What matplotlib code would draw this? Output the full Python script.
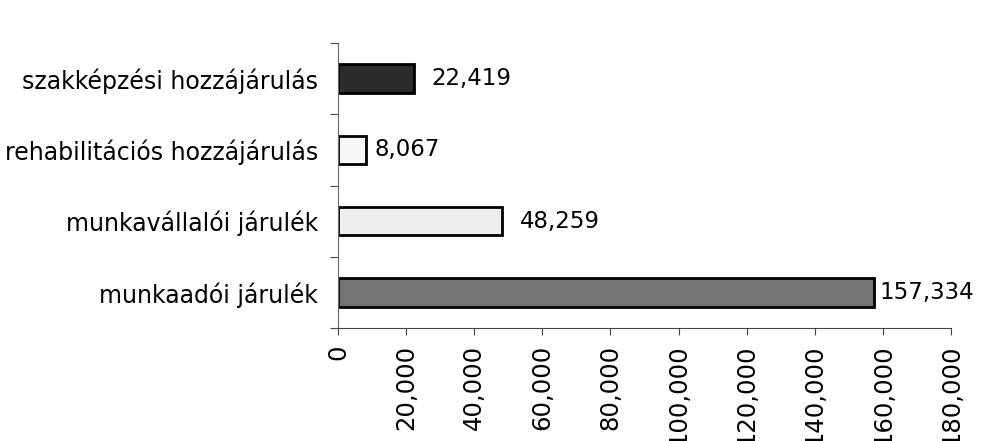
import matplotlib.pyplot as plt
from matplotlib.ticker import FuncFormatter

# adatok
kategoriak = ['munkaadói járulék', 'munkavállalói járulék',
              'rehabilitációs hozzájárulás', 'szakképzési hozzájárulás']
ertekek = [157334, 48259, 8067, 22419]
szinek = ['#737373', '#eeeeee', '#f8f8f8', '#2b2b2b']
x_tickek = [0, 20000, 40000, 60000, 80000, 100000, 120000, 140000, 160000, 180000]
cimke_eltolas = [6, 17, 9, 17]  # pixelben

plt.rcParams['font.family'] = 'DejaVu Sans'

fig = plt.figure(figsize=(9.81, 4.41), dpi=100)
ax = fig.add_axes([0.3446, 0.2562, 0.9694 - 0.3446, 0.9025 - 0.2562])

y = range(len(kategoriak))
ax.barh(y, ertekek, height=0.4, color=szinek, edgecolor='black', linewidth=2)

for i, v in enumerate(ertekek):
    ax.annotate(f'{v:,}', (v, i), xytext=(cimke_eltolas[i], 0),
                textcoords='offset pixels', va='center', ha='left', fontsize=16.5)

ax.set_xlim(0, 180000)
ax.set_ylim(-0.5, 3.5)
ax.set_xticks(x_tickek)
ax.xaxis.set_major_formatter(FuncFormatter(lambda v, p: f'{int(v):,}'))
ax.tick_params(axis='x', labelrotation=90, labelsize=17.5, length=5, pad=7,
               direction='out', color='#444444')

ax.set_yticks([i + 0.5 for i in range(len(kategoriak))] + [-0.5])
ax.set_yticklabels([])
ax.set_yticks(list(y), minor=True)
ax.set_yticklabels(kategoriak, minor=True, fontsize=17)
ax.tick_params(axis='y', which='major', length=6, color='#444444')
ax.tick_params(axis='y', which='minor', length=0, pad=14.5)

for s in ['top', 'right']:
    ax.spines[s].set_visible(False)
ax.spines['left'].set_color('#666666')
ax.spines['bottom'].set_color('#444444')

fig.savefig('out.png', dpi=100)
